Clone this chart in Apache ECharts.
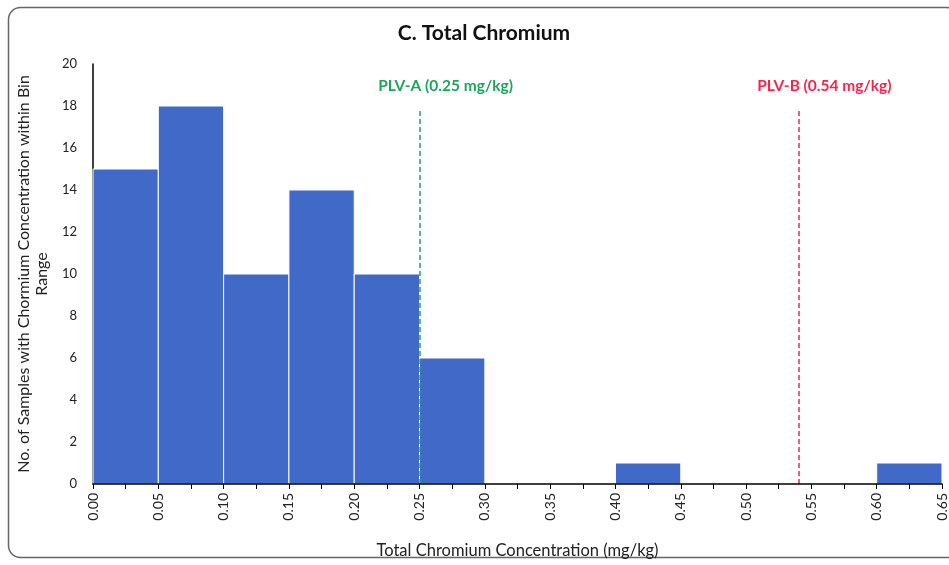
<!DOCTYPE html>
<html>
<head>
<meta charset="utf-8">
<script src="https://cdn.jsdelivr.net/npm/echarts@6/dist/echarts.min.js"></script>
<style>
  html, body { margin: 0; padding: 0; background: #fff; }
  #chart { width: 949px; height: 565px; }
</style>
</head>
<body>
<div id="chart"></div>
<script>
// Histogram bins (lower edge, mg/kg) and the number of samples in each
const binStarts = [0.00, 0.05, 0.10, 0.15, 0.20, 0.25, 0.30, 0.35, 0.40, 0.45, 0.50, 0.55, 0.60];
const binCounts = [15, 18, 10, 14, 10, 6, 0, 0, 1, 0, 0, 0, 1];
const binWidth = 0.05;

// Screening levels
const plvA = 0.25;
const plvB = 0.54;

const FONT = 'Lato, "Open Sans", sans-serif';

const chart = echarts.init(document.getElementById('chart'), null, { renderer: 'canvas' });

const binData = binStarts.map((s, i) => [s, s + binWidth, binCounts[i]]);

function plvLabel(name, value, color) {
  return {
    show: true, position: 'end',
    formatter: name + ' (' + value.toFixed(2) + ' mg/kg)',
    color: color, fontWeight: 'bold', fontSize: 15.5, fontFamily: FONT,
    offset: [26, -9]
  };
}

chart.setOption({
  animation: false,
  textStyle: { fontFamily: FONT },
  title: {
    text: 'C. Total Chromium',
    left: 479,
    textAlign: 'center',
    top: 18,
    textStyle: { fontFamily: FONT, fontSize: 21, fontWeight: 'bold', color: '#111' }
  },
  graphic: [{
    type: 'rect',
    shape: { x: 8.5, y: 7.5, width: 950, height: 550, r: 12 },
    style: { fill: 'none', stroke: '#666', lineWidth: 1.5 },
    silent: true,
    z: -1
  }],
  grid: { left: 93, right: 4, top: 64, bottom: 81 },
  xAxis: {
    type: 'value',
    min: 0,
    max: 0.65,
    interval: 0.05,
    z: 5,
    name: 'Total Chromium Concentration (mg/kg)',
    nameLocation: 'middle',
    nameGap: 58,
    nameTextStyle: { fontFamily: FONT, fontSize: 16.5, color: '#222' },
    axisLine: { show: true, lineStyle: { color: '#000', width: 1.5 } },
    axisTick: { show: true, length: 5, lineStyle: { color: '#000' } },
    minorTick: { show: true, splitNumber: 2, length: 5, lineStyle: { color: '#000' } },
    splitLine: { show: false },
    axisLabel: {
      rotate: 90,
      margin: 9,
      fontFamily: FONT,
      fontSize: 14,
      color: '#222',
      formatter: v => v.toFixed(2),
      showMaxLabel: true
    }
  },
  yAxis: {
    type: 'value',
    min: 0,
    max: 20,
    interval: 2,
    name: 'No. of Samples with Chormium Concentration within Bin\nRange',
    nameLocation: 'middle',
    nameGap: 32,
    nameTextStyle: { fontFamily: FONT, fontSize: 16, color: '#222', lineHeight: 18 },
    axisLine: { show: true, lineStyle: { color: '#000', width: 1.5 } },
    axisTick: { show: false },
    splitLine: { show: false },
    axisLabel: { fontFamily: FONT, fontSize: 13, color: '#222', margin: 16 }
  },
  series: [{
    type: 'custom',
    encode: { x: [0, 1], y: 2 },
    data: binData,
    renderItem: function (params, api) {
      const p0 = api.coord([api.value(0), 0]);
      const p1 = api.coord([api.value(1), api.value(2)]);
      return {
        type: 'rect',
        shape: { x: p0[0], y: p1[1], width: p1[0] - p0[0], height: p0[1] - p1[1] },
        style: { fill: '#4169c8', stroke: '#ffffff', lineWidth: 1 }
      };
    },
    markLine: {
      silent: true,
      symbol: 'none',
      data: [
        [
          { coord: [plvA, 0], lineStyle: { color: '#1aa856', type: [5, 3], width: 1.5 },
            label: plvLabel('PLV-A', plvA, '#1aa856') },
          { coord: [plvA, 17.9] }
        ],
        [
          { coord: [plvB, 0], lineStyle: { color: '#ff1f4b', type: [5, 3], width: 1.5 },
            label: plvLabel('PLV-B', plvB, '#ff1f4b') },
          { coord: [plvB, 17.9] }
        ]
      ]
    }
  }]
});
</script>
</body>
</html>
